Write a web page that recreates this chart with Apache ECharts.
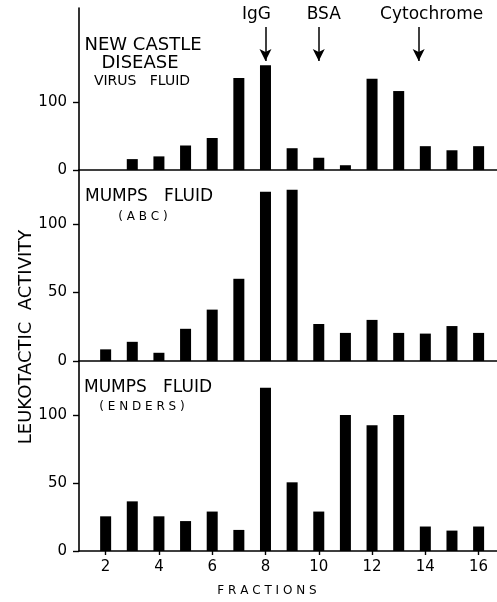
<!DOCTYPE html>
<html>
<head>
<meta charset="utf-8">
<script src="https://cdn.jsdelivr.net/npm/echarts@6/dist/echarts.min.js"></script>
<style>
html,body{margin:0;padding:0;background:#fff;}
#chart{width:497px;height:602px;}
</style>
</head>
<body>
<div id="chart"></div>
<script>
// ---- data ----
const fractions = [2,3,4,5,6,7,8,9,10,11,12,13,14,15,16];
const newcastle = [0,16,20,36,47,135,154,32,18,7,134,116,35,29,35];
const mumpsABC  = [8.5,14,6,23.5,37.5,60,123.5,125,27,20.5,30,20.5,20,25.5,20.5];
const mumpsEnders = [25.5,36.5,25.5,22,29,15.5,120,50.5,29,100,92.5,100,18,15,18];
const xTicks = [2,4,6,8,10,12,14,16];
const yTicksTop = [0,100];
const yTicksLower = [0,50,100];
const markers = [
  {name:'IgG', x:8, dx:-9},
  {name:'BSA', x:10, dx:5},
  {name:'Cytochrome', x:13.75, dx:13}
];
const arrowFrom = 210, arrowTo = 160;

const FONT = 'DejaVu Sans';
const pairs = ys => fractions.map((f,i)=>[f, ys[i]]);

const grids = [
  {left:79, right:0, top:8, height:162},
  {left:79, right:0, top:170, height:191},
  {left:79, right:0, top:361, height:190}
];
const axisLineStyle = {color:'#000', width:1.6};

function xAxis(i, bottom){
  return {
    type:'value', gridIndex:i, min:1, max:16.69,
    axisLine:{show:true, onZero:false, lineStyle:axisLineStyle},
    axisTick: bottom ? {show:true, length:4, customValues:xTicks, lineStyle:{color:'#000', width:1.4}} : {show:false},
    axisLabel: bottom ? {show:true, customValues:xTicks, color:'#000', fontFamily:FONT, fontSize:15, margin:9} : {show:false},
    splitLine:{show:false}
  };
}
function yAxis(i, max, ticks){
  return {
    type:'value', gridIndex:i, min:0, max:max,
    axisLine:{show:true, lineStyle:axisLineStyle},
    axisTick:{show:true, length:6, customValues:ticks, lineStyle:{color:'#000', width:1.4}},
    axisLabel:{show:true, customValues:ticks, color:'#000', fontFamily:FONT, fontSize:15, margin:12},
    splitLine:{show:false}
  };
}
function barSeries(i, ys, extra){
  return Object.assign({
    type:'bar', xAxisIndex:i, yAxisIndex:i, data:pairs(ys),
    barWidth:11, itemStyle:{color:'#000'}, silent:true, animation:false
  }, extra||{});
}

const markLineData = markers.map(m => [
  {coord:[m.x, arrowFrom], symbol:'none',
   label:{show:true, formatter:m.name, position:'start', offset:[m.dx,0], distance:4,
          color:'#000', fontFamily:FONT, fontSize:17}},
  {coord:[m.x, arrowTo], symbol:'arrow'}
]);

function txt(x,y,text,size,align){
  return {type:'text', x:x, y:y, style:{text:text, fill:'#000', font:size+'px "'+FONT+'"', textAlign:align||'center', textVerticalAlign:'middle'}};
}

const chart = echarts.init(document.getElementById('chart'));
chart.setOption({
  animation:false,
  backgroundColor:'#fff',
  grid:grids,
  xAxis:[xAxis(0,false), xAxis(1,false), xAxis(2,true)],
  yAxis:[yAxis(0,238,yTicksTop), yAxis(1,139.4,yTicksLower), yAxis(2,139.7,yTicksLower)],
  series:[
    barSeries(0, newcastle, {markLine:{silent:true, animation:false, symbolSize:[9,12],
      lineStyle:{color:'#000', width:1.5, type:'solid'}, data:markLineData}}),
    barSeries(1, mumpsABC),
    barSeries(2, mumpsEnders)
  ],
  graphic:[
    txt(143,45,'NEW CASTLE',18),
    txt(140,63,'DISEASE',18),
    txt(142,81,'VIRUS   FLUID',14),
    txt(85,197,'MUMPS   FLUID',17,'left'),
    txt(143,217,'( A B C )',12),
    txt(84,388,'MUMPS   FLUID',17,'left'),
    txt(142,407,'( E N D E R S )',12),
    txt(267,591,'F R A C T I O N S',12),
    {type:'text', x:26, y:337, rotation:Math.PI/2,
     style:{text:'LEUKOTACTIC  ACTIVITY', fill:'#000', font:'18px "'+FONT+'"', textAlign:'center', textVerticalAlign:'middle'}}
  ]
});
</script>
</body>
</html>
